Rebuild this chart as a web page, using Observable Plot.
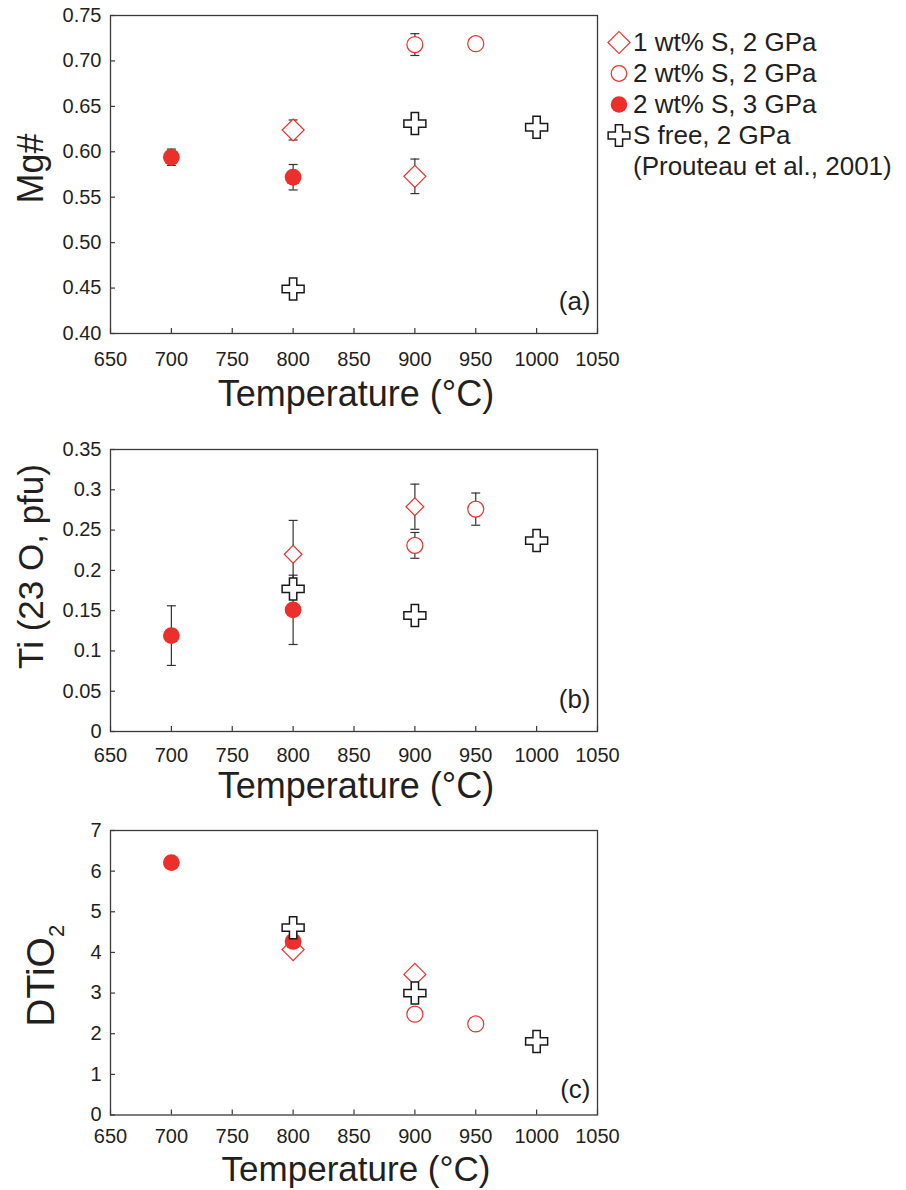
<!DOCTYPE html>
<html><head><meta charset="utf-8">
<script src="https://cdn.jsdelivr.net/npm/d3@7"></script>
<script src="https://cdn.jsdelivr.net/npm/@observablehq/plot@0.6"></script>
<style>
body{margin:0;background:#fff;}
#wrap{position:relative;width:906px;height:1190px;overflow:hidden;font-family:'Liberation Sans',Arial,Helvetica,sans-serif;color:#231f20;background:#fff;}
.panel{position:absolute;left:0;}
.panel svg{display:block;}
#legend{position:absolute;left:604px;top:27px;font-size:26px;line-height:31px;white-space:nowrap;}
#legend .row{display:flex;align-items:center;height:31px;}
#legend svg{display:block;flex:none;}
</style></head><body><div id="wrap"></div>
<script>
// ---------- data ----------
const seriesNames = ["1 wt% S, 2 GPa", "2 wt% S, 2 GPa", "2 wt% S, 3 GPa", "S free, 2 GPa"];
const legendNote = "(Prouteau et al., 2001)";
const xLabel = "Temperature (°C)";
const xTicks = [650, 700, 750, 800, 850, 900, 950, 1000, 1050];
const mgTicks = [0.40, 0.45, 0.50, 0.55, 0.60, 0.65, 0.70, 0.75];
const tiTicks = [0, 0.05, 0.10, 0.15, 0.20, 0.25, 0.30, 0.35];
const dTicks = [0, 1, 2, 3, 4, 5, 6, 7];

// 1 wt% S, 2 GPa
const s1Temp = [800, 900];
const s1Mg = [0.624, 0.573];
const s1MgErr = [0.011, 0.019];
const s1Ti = [0.220, 0.279];
const s1TiErr = [0.042, 0.028];
const s1D = [4.07, 3.46];
// 2 wt% S, 2 GPa
const s2Temp = [900, 950];
const s2Mg = [0.718, 0.719];
const s2MgErr = [0.012, null];
const s2Ti = [0.231, 0.276];
const s2TiErr = [0.016, 0.020];
const s2D = [2.48, 2.24];
// 2 wt% S, 3 GPa
const s3Temp = [700, 800];
const s3Mg = [0.594, 0.572];
const s3MgErr = [0.009, 0.014];
const s3Ti = [0.119, 0.151];
const s3TiErr = [0.037, 0.043];
const s3D = [6.21, 4.27];
// S free, 2 GPa (Prouteau et al., 2001)
const s4Temp = [800, 900, 1000];
const s4Mg = [0.449, 0.631, 0.627];
const s4Ti = [0.177, 0.144, 0.237];
const s4D = [4.61, 3.00, 1.81];

// ---------- helpers ----------
const RED = "#ec2f2a";
const INK = "#231f20";
const AXIS = "#3a3a3a";
function rows(si, temps, vals, errs) {
  return temps.map((t, i) => ({series: seriesNames[si], t, v: vals[i], e: errs ? errs[i] : null}));
}
const capSymbol = {draw(ctx) { ctx.moveTo(-4.5, 0); ctx.lineTo(4.5, 0); }};

const panels = [
  {top: 0, height: 420, mt: 15, mb: 87, domain: [0.40, 0.75], ticks: mgTicks, fmt: d3.format(".2f"),
   label: "Mg#", lfs: 36, ldx: -68, ldy: -6, tag: "(a)", tagDy: -23.5, xlDy: 72, xlFs: 36, tp: 18, dr: 9.9,
   data: [rows(0, s1Temp, s1Mg, s1MgErr), rows(1, s2Temp, s2Mg, s2MgErr), rows(2, s3Temp, s3Mg, s3MgErr), rows(3, s4Temp, s4Mg)]},
  {top: 420, height: 391, mt: 29, mb: 80, domain: [0, 0.35], ticks: tiTicks, fmt: d3.format("~g"),
   label: "Ti (23 O, pfu)", lfs: 35, ldx: -68, ldy: -24, tag: "(b)", tagDy: -23.5, xlDy: 66, xlFs: 36, tp: 16, dr: 8,
   data: [rows(0, s1Temp, s1Ti, s1TiErr), rows(1, s2Temp, s2Ti, s2TiErr), rows(2, s3Temp, s3Ti, s3TiErr), rows(3, s4Temp, s4Ti)]},
  {top: 811, height: 379, mt: 19, mb: 75.5, domain: [0, 7], ticks: dTicks, fmt: d3.format("d"),
   label: "DTiO2", lfs: 39, ldx: -57, ldy: 3, tag: "(c)", tagDy: -17, xlDy: 65.5, xlFs: 35, tp: 14, dr: 9.9,
   data: [rows(0, s1Temp, s1D), rows(1, s2Temp, s2D), rows(2, s3Temp, s3D), rows(3, s4Temp, s4D)]}
];

const W = 640, ML = 110, MR = 43;
const wrap = document.getElementById("wrap");

for (const p of panels) {
  const frameH = p.height - p.mt - p.mb;
  const frameW = W - ML - MR;
  const all = p.data.flat();
  const errRows = all.filter(d => d.e != null);
  const [dDia, dCirc, dFill, dCross] = p.data;
  const svg = Plot.plot({
    width: W, height: p.height,
    marginLeft: ML, marginRight: MR, marginTop: p.mt, marginBottom: p.mb,
    style: {fontFamily: "'Liberation Sans', Arial, Helvetica, sans-serif", fontSize: "20px", color: INK, background: "transparent"},
    x: {domain: [650, 1050]},
    y: {domain: p.domain},
    marks: [
      Plot.tickX(xTicks, {x: d => d, insetTop: frameH - 5, stroke: AXIS, strokeWidth: 1.2}),
      Plot.tickY(p.ticks, {y: d => d, insetRight: frameW - 5, stroke: AXIS, strokeWidth: 1.2}),
      Plot.axisX(xTicks, {tickSize: 0, tickPadding: p.tp, tickFormat: d3.format("d"), label: null, fontSize: 20, fill: INK}),
      Plot.axisY(p.ticks, {tickSize: 0, tickPadding: 9, tickFormat: p.fmt, label: null, fontSize: 20, fill: INK}),
      Plot.frame({stroke: AXIS, strokeWidth: 1.3}),
      Plot.ruleX(errRows, {x: "t", y1: d => d.v - d.e, y2: d => d.v + d.e, stroke: "#333", strokeWidth: 1.2}),
      Plot.dot(errRows, {x: "t", y: d => d.v - d.e, symbol: capSymbol, fill: "none", stroke: "#333", strokeWidth: 1.2}),
      Plot.dot(errRows, {x: "t", y: d => d.v + d.e, symbol: capSymbol, fill: "none", stroke: "#333", strokeWidth: 1.2}),
      Plot.dot(dDia, {x: "t", y: "v", symbol: "diamond2", r: p.dr, fill: "white", stroke: RED, strokeWidth: 1.2}),
      Plot.dot(dCirc, {x: "t", y: "v", symbol: "circle", r: 8, fill: "white", stroke: RED, strokeWidth: 1.2}),
      Plot.dot(dFill, {x: "t", y: "v", symbol: "circle", r: 8.4, fill: RED, stroke: "none"}),
      Plot.dot(dCross, {x: "t", y: "v", symbol: "cross", r: 9.25, fill: "white", stroke: "#1a1a1a", strokeWidth: 1.5}),
      Plot.text([xLabel], {frameAnchor: "bottom", dy: p.xlDy, dx: 2, lineAnchor: "bottom", fontSize: p.xlFs, fill: INK}),
      Plot.text([p.label], {frameAnchor: "left", rotate: -90, dx: p.ldx, dy: p.ldy, lineAnchor: "bottom", textAnchor: "middle", fontSize: p.lfs, fill: INK}),
      Plot.text([p.tag], {frameAnchor: "bottom-right", dx: -7, dy: p.tagDy, lineAnchor: "bottom", textAnchor: "end", fontSize: 26, fill: INK})
    ]
  });
  // subscript for DTiO2
  d3.select(svg).selectAll("text").filter(function() { return this.textContent === "DTiO2"; })
    .each(function() {
      const t = d3.select(this);
      t.text("DTiO");
      t.append("tspan").attr("font-size", "22px").attr("dy", "10").text("2");
    });
  const div = document.createElement("div");
  div.className = "panel";
  div.style.top = p.top + "px";
  div.appendChild(svg);
  wrap.appendChild(div);
}

// ---------- legend ----------
const legendSpecs = [
  {type: d3.symbolSquare, size: 243, rotate: 45, fill: "white", stroke: RED, sw: 1.2},
  {type: d3.symbolCircle, size: 190, rotate: 0, fill: "white", stroke: RED, sw: 1.2},
  {type: d3.symbolCircle, size: 215, rotate: 0, fill: RED, stroke: "none", sw: 0},
  {type: d3.symbolCross, size: 262, rotate: 0, fill: "white", stroke: "#1a1a1a", sw: 1.5}
];
const legend = d3.select(wrap).append("div").attr("id", "legend");
seriesNames.forEach((name, i) => {
  const s = legendSpecs[i];
  const row = legend.append("div").attr("class", "row");
  const sv = row.append("svg").attr("width", 29).attr("height", 31);
  sv.append("path")
    .attr("d", d3.symbol().type(s.type).size(s.size)())
    .attr("transform", `translate(15,15.5) rotate(${s.rotate})`)
    .attr("fill", s.fill).attr("stroke", s.stroke).attr("stroke-width", s.sw);
  row.append("span").text(name);
});
legend.append("div").attr("class", "row").style("padding-left", "29px").append("span").text(legendNote);
</script></body></html>
